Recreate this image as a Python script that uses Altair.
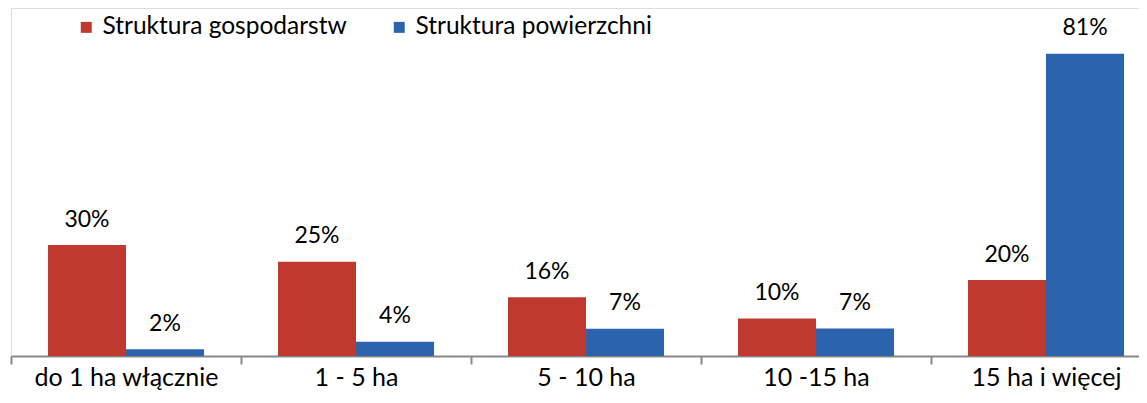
import altair as alt
import pandas as pd

categories = ["do 1 ha włącznie", "1 - 5 ha", "5 - 10 ha", "10 -15 ha", "15 ha i więcej"]
series = ["Struktura gospodarstw", "Struktura powierzchni"]
gospodarstw = [29.8, 25.3, 15.8, 10.1, 20.4]
powierzchni = [1.8, 3.8, 7.3, 7.4, 81.2]
gospodarstw_labels = ["30%", "25%", "16%", "10%", "20%"]
powierzchni_labels = ["2%", "4%", "7%", "7%", "81%"]
colors = ["#BF392F", "#2B63AD"]

rows = []
for i, c in enumerate(categories):
    rows.append({"kategoria": c, "seria": series[0], "wartosc": gospodarstw[i], "etykieta": gospodarstw_labels[i]})
    rows.append({"kategoria": c, "seria": series[1], "wartosc": powierzchni[i], "etykieta": powierzchni_labels[i]})
df = pd.DataFrame(rows)

FONT = "Lato"
FS = 23

x = alt.X(
    "kategoria:N",
    sort=categories,
    scale=alt.Scale(range=[0, 1150], paddingInner=0, paddingOuter=0),
    axis=alt.Axis(
        title=None,
        labelAngle=0,
        labelLimit=0,
        tickBand="extent",
        domainColor="#888888",
        domainWidth=2,
        tickColor="#888888",
        tickWidth=2,
        tickSize=8,
        labelPadding=1,
        labelFont=FONT,
        labelFontSize=25,
        labelColor="black",
        grid=False,
    ),
)
xo = alt.XOffset("seria:N", sort=series, scale=alt.Scale(paddingInner=0, paddingOuter=0.474))
y = alt.Y("wartosc:Q", scale=alt.Scale(domain=[0, 93.5], nice=False, zero=True), axis=None)

bars = alt.Chart(df).mark_bar().encode(
    x=x,
    xOffset=xo,
    y=y,
    color=alt.Color(
        "seria:N",
        sort=series,
        scale=alt.Scale(domain=series, range=colors),
        legend=alt.Legend(
            title=None,
            orient="none",
            legendX=63,
            legendY=7,
            direction="horizontal",
            symbolType="square",
            symbolSize=120,
            symbolStrokeWidth=0,
            labelFont=FONT,
            labelFontSize=24.5,
            labelColor="black",
            labelLimit=0,
            labelOffset=4,
            columnPadding=40,
            padding=0,
        ),
    ),
)

labels = alt.Chart(df).mark_text(
    font=FONT, fontSize=FS, baseline="alphabetic", dy=-18.5, color="black"
).encode(x=x, xOffset=xo, y=y, text="etykieta:N")

chart = (
    alt.layer(bars, labels)
    .properties(
        width=1128,
        height=348,
        autosize=alt.AutoSizeParams(type="none"),
        padding={"left": 3, "top": 0, "right": 0, "bottom": 34},
    )
    .configure_view(stroke=None)
    .configure(background="white")
)

chart.save("out.html", embed_options={"renderer": "svg", "actions": False})
